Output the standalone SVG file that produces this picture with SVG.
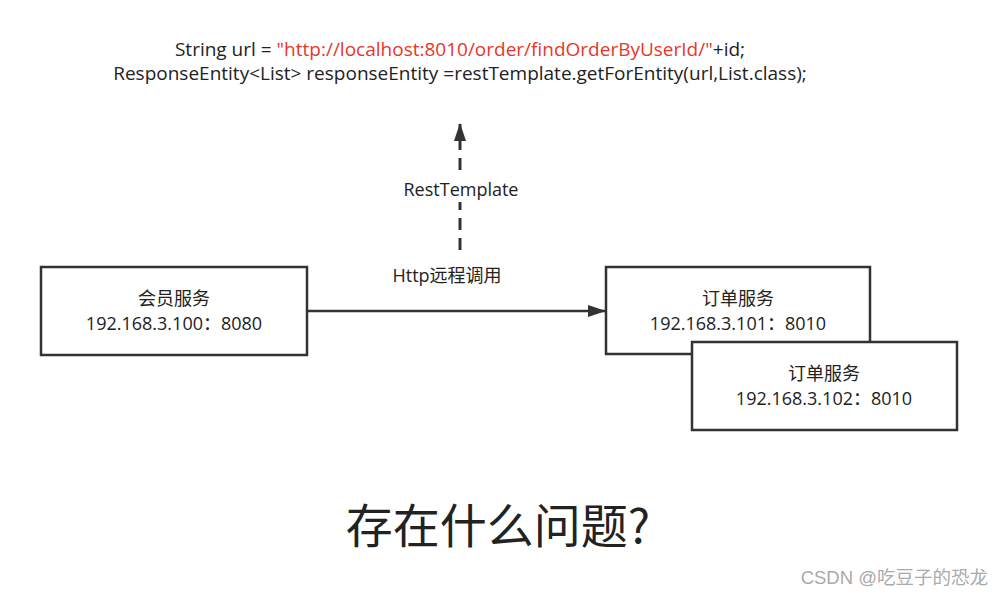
<svg xmlns="http://www.w3.org/2000/svg" width="1003" height="596" viewBox="0 0 1003 596">
<style>
text{font-family:"Open Sans","Noto Sans","Noto Sans CJK SC",sans-serif;fill:#222}
.box{fill:#fff;stroke:#333;stroke-width:2.5}
.t{font-size:18px;text-anchor:middle}
.code{font-size:19px;text-anchor:middle}
</style>
<defs>
<marker id="ah" markerWidth="18" markerHeight="12" refX="17" refY="6" orient="auto" markerUnits="userSpaceOnUse">
<path d="M0,0 L18,6 L0,12 Z" fill="#333"/>
</marker>
</defs>
<rect width="1003" height="596" fill="#fff"/>
<g id="code">
<text class="code" x="460" y="56">String url = <tspan fill="#e8362a">"http://localhost:8010/order/findOrderByUserId/"</tspan>+id;</text>
<text class="code" x="460" y="80">ResponseEntity&lt;List&gt; responseEntity =restTemplate.getForEntity(url,List.class);</text>
</g>
<g id="connectors">
<line x1="460" y1="250" x2="460" y2="124" stroke="#333" stroke-width="3" stroke-dasharray="12,8" marker-end="url(#ah)"/>
<rect x="396" y="176" width="128" height="26" fill="#fff"/>
<text class="t" x="461" y="196">RestTemplate</text>
<line x1="307" y1="311" x2="605" y2="311" stroke="#333" stroke-width="2.5" marker-end="url(#ah)"/>
<text class="t" x="447" y="282">Http远程调用</text>
</g>
<g id="member">
<rect class="box" x="41" y="267" width="266" height="88"/>
<text class="t" x="174" y="305">会员服务</text>
<text class="t" x="174" y="330">192.168.3.100：8080</text>
</g>
<g id="order1">
<rect class="box" x="606" y="267" width="264" height="87"/>
<text class="t" x="738" y="305">订单服务</text>
<text class="t" x="738" y="330">192.168.3.101：8010</text>
</g>
<g id="order2">
<rect class="box" x="692" y="342" width="265" height="88"/>
<text class="t" x="824" y="380">订单服务</text>
<text class="t" x="824" y="405">192.168.3.102：8010</text>
</g>
<g id="question">
<text x="498" y="543" style="font-size:47px;text-anchor:middle;font-family:'Noto Sans CJK SC',sans-serif">存在什么问题?</text>
</g>
<g id="watermark">
<text x="988" y="584" style="font-size:18.5px;text-anchor:end;fill:#aaa;font-family:'Liberation Sans','Noto Sans CJK SC',sans-serif">CSDN @吃豆子的恐龙</text>
</g>
</svg>
